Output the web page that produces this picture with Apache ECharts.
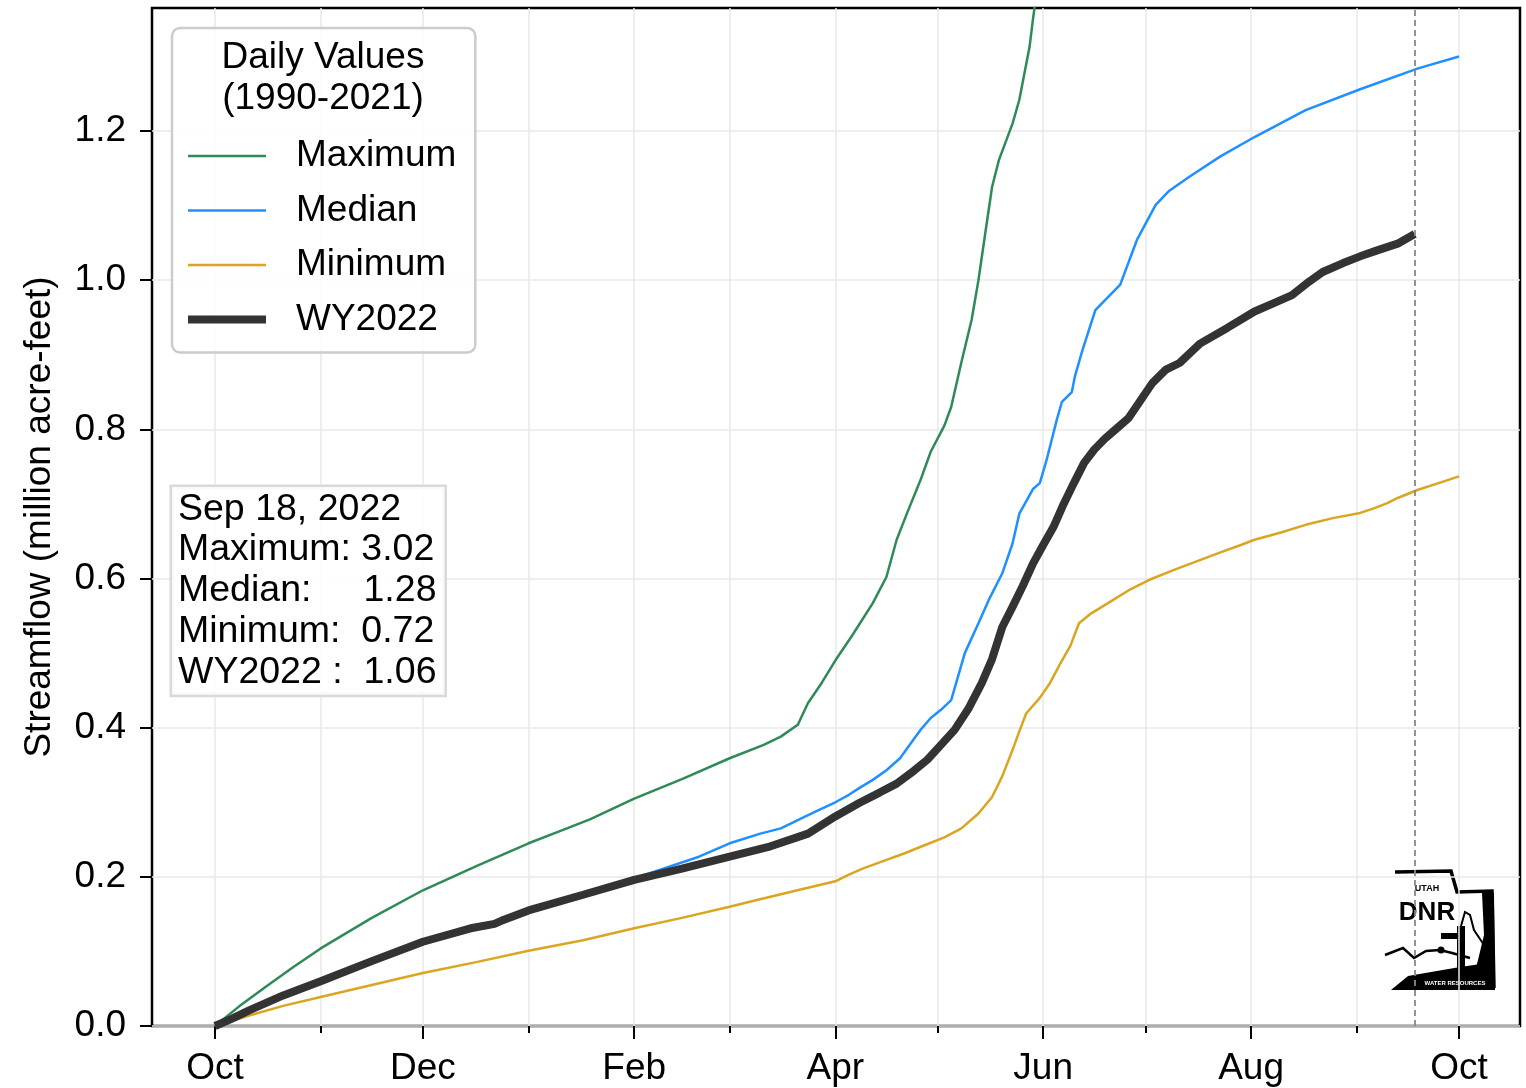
<!DOCTYPE html>
<html><head><meta charset="utf-8">
<script src="https://cdn.jsdelivr.net/npm/echarts@6/dist/echarts.min.js"></script>
<style>html,body{margin:0;padding:0;background:#fff}#c{width:1526px;height:1088px}</style>
</head><body><div id="c"></div>
<script>
// ---- axis definitions (day of water year, Oct 1 = 0) ----
const monthDays = [0,31,61,92,123,151,182,212,243,273,304,335,365];
const majorDays = [0,61,123,182,243,304,365];
const majorLabels = ['Oct','Dec','Feb','Apr','Jun','Aug','Oct'];
const yTicks = [0,0.2,0.4,0.6,0.8,1.0,1.2];

// ---- Maximum (1990-2021) ----
const maxDays = [0,7,15,23,31,46,61,77,92,101,110,123,137,151,161,166,171,174,178,182,187,193,197,200,203,207,210,214,216,219,222,224,226,228,230,234,236,239,240,243,250,260,275,290,305,320,335,352,365];
const maxVals = [0,0.026,0.053,0.079,0.104,0.145,0.182,0.215,0.245,0.261,0.277,0.305,0.331,0.359,0.377,0.388,0.404,0.433,0.46,0.49,0.524,0.567,0.602,0.652,0.687,0.732,0.77,0.805,0.83,0.89,0.947,1.0,1.063,1.125,1.161,1.21,1.242,1.313,1.35,1.45,1.7,2.0,2.35,2.6,2.75,2.88,2.96,3.02,3.07];

// ---- Median ----
const medDays = [0,5,10,20,31,46,61,75,82,84,92,108,123,142,151,160,166,171,176,182,186,189,193,197,201,204,207,210,213,216,220,224,227,231,234,236,240,242,244,247,248.5,251.4,252.3,254.5,258.3,265.6,270.5,276,280,286,295,305,320,336,353,365];
const medVals = [0,0.011,0.022,0.042,0.06,0.087,0.113,0.131,0.139,0.143,0.155,0.176,0.198,0.227,0.245,0.258,0.265,0.276,0.287,0.30,0.31,0.319,0.33,0.343,0.359,0.378,0.397,0.413,0.424,0.437,0.50,0.54,0.571,0.607,0.647,0.687,0.72,0.728,0.759,0.813,0.837,0.85,0.871,0.906,0.96,0.994,1.054,1.101,1.12,1.139,1.166,1.192,1.228,1.256,1.284,1.30];

// ---- Minimum ----
const minDays = [0,10,20,31,46,61,77,92,108,123,137,151,159,170,182,186,190,196,202,208,214,219,224,228,231,234,236,238,242,245,248,251,253.5,257,262,268,274,281,288,295,301,305,313,320,328,336,340,344,347,353,359,365];
const minVals = [0,0.014,0.027,0.039,0.055,0.071,0.086,0.101,0.115,0.131,0.145,0.16,0.169,0.181,0.194,0.203,0.211,0.221,0.231,0.242,0.253,0.265,0.285,0.307,0.335,0.37,0.395,0.419,0.44,0.46,0.486,0.51,0.54,0.553,0.567,0.584,0.598,0.611,0.623,0.635,0.645,0.652,0.662,0.672,0.681,0.688,0.694,0.701,0.708,0.719,0.728,0.737];

// ---- WY2022 ----
const wyDays = [0,5,10,20,31,46,61,75,82,84,92,108,123,137,151,163,174,182,189,195,200,205,209,213,217,221,225,228,231,234,237,240,243,246,249,252,255,258,261,264,268,271,275,279,283,289,297,305,310,316,321,325,331,336,341,347,352];
const wyVals = [0,0.01,0.021,0.041,0.06,0.087,0.113,0.131,0.137,0.141,0.155,0.176,0.196,0.211,0.227,0.241,0.258,0.281,0.299,0.313,0.325,0.342,0.357,0.377,0.397,0.425,0.46,0.492,0.535,0.562,0.59,0.62,0.645,0.669,0.70,0.728,0.755,0.773,0.787,0.799,0.815,0.835,0.862,0.88,0.889,0.915,0.936,0.958,0.968,0.98,0.998,1.011,1.023,1.032,1.04,1.049,1.062];

// ---- annotation ----
const asOfDay = 352;
const asOfLabel = 'Sep 18, 2022';
const statNames = ['Maximum: ', 'Median:     ', 'Minimum:  ', 'WY2022 :  '];
const statValues = ['3.02', '1.28', '0.72', '1.06'];

const FONT = '"Liberation Sans", Arial, sans-serif';
const pairs = (d, v) => d.map((x, i) => [x, v[i]]);

const chart = echarts.init(document.getElementById('c'), null, {renderer: 'canvas'});
const statText = [asOfLabel].concat(statNames.map((n, i) => n + statValues[i])).join('\n');

const COLORS = {Maximum: '#2e8b57', Median: '#1e90ff', Minimum: '#daa520', WY2022: '#333333'};
const WIDTHS = {Maximum: 2.5, Median: 2.5, Minimum: 2.5, WY2022: 8};

chart.setOption({
  animation: false,
  backgroundColor: '#ffffff',
  grid: {left: 152, top: 8, right: 6, bottom: 62, show: true, borderColor: '#000', borderWidth: 2.5, backgroundColor: 'transparent'},
  xAxis: [{
    type: 'value', min: -18.49, max: 382.9,
    axisLine: {show: false, onZero: false},
    axisTick: {show: true, customValues: monthDays, length: 7, lineStyle: {color: '#000', width: 2}},
    axisLabel: {customValues: majorDays, margin: 24, fontFamily: FONT, fontSize: 37, color: '#000',
      formatter: v => majorLabels[majorDays.indexOf(v)] || ''},
    splitLine: {show: true, lineStyle: {color: '#e8e8e8', width: 1.5}}
  }, {
    type: 'value', min: -18.49, max: 382.9, position: 'bottom',
    axisLine: {show: false, onZero: false},
    axisTick: {show: true, customValues: majorDays, length: 13, lineStyle: {color: '#000', width: 2}},
    axisLabel: {show: false},
    splitLine: {show: false}
  }],
  yAxis: {
    type: 'value', min: 0, max: 1.365, position: 'left',
    name: 'Streamflow (million acre-feet)', nameLocation: 'middle', nameGap: 94,
    nameTextStyle: {fontFamily: FONT, fontSize: 37, color: '#000'},
    axisLine: {show: false, onZero: false},
    axisTick: {show: true, customValues: yTicks, length: 12, lineStyle: {color: '#000', width: 2}},
    axisLabel: {customValues: yTicks, margin: 26, fontFamily: FONT, fontSize: 37, color: '#000',
      formatter: v => v.toFixed(1)},
    splitLine: {show: true, lineStyle: {color: '#e8e8e8', width: 1.5}}
  },
  legend: {
    orient: 'vertical', left: 172, top: 28,
    data: ['Maximum', 'Median', 'Minimum', 'WY2022'].map(n => ({
      name: n, itemStyle: {opacity: 0},
      lineStyle: {color: COLORS[n], width: WIDTHS[n], opacity: 1}
    })),
    itemWidth: 78, itemHeight: 14, itemGap: 14.5,
    padding: [108, 19, 13, 12],
    backgroundColor: 'rgba(255,255,255,0.85)', borderColor: '#cccccc', borderWidth: 2.5, borderRadius: 8,
    textStyle: {fontFamily: FONT, fontSize: 37, color: '#000', padding: [0, 0, 0, 25], lineHeight: 40}
  },
  series: [
    {name: 'Maximum', type: 'line', data: pairs(maxDays, maxVals), showSymbol: false, symbol: 'none',
      lineStyle: {color: COLORS.Maximum, width: 2.5}, itemStyle: {color: COLORS.Maximum}, clip: true},
    {name: 'Median', type: 'line', data: pairs(medDays, medVals), showSymbol: false, symbol: 'none',
      lineStyle: {color: COLORS.Median, width: 2.5}, itemStyle: {color: COLORS.Median}, clip: true},
    {name: 'Minimum', type: 'line', data: pairs(minDays, minVals), showSymbol: false, symbol: 'none',
      lineStyle: {color: COLORS.Minimum, width: 2.5}, itemStyle: {color: COLORS.Minimum}, clip: true},
    {name: 'WY2022', type: 'line', data: pairs(wyDays, wyVals), showSymbol: false, symbol: 'none',
      lineStyle: {color: COLORS.WY2022, width: 8}, itemStyle: {color: COLORS.WY2022}, clip: true,
      markLine: {silent: true, symbol: ['none', 'none'], label: {show: false},
        lineStyle: {color: '#888888', type: [6, 4], width: 1.8},
        data: [{xAxis: asOfDay}]}}
  ],
  graphic: [
    {type: 'text', z: 100, x: 323, y: 37, style: {text: 'Daily Values\n(1990-2021)', font: '37px ' + FONT,
      fill: '#000', align: 'center', verticalAlign: 'top', lineHeight: 41}},
    {type: 'text', z: 100, x: 172, y: 487, style: {text: statText, font: '37.5px ' + FONT, fill: '#000',
      lineHeight: 40.75, backgroundColor: 'rgba(255,255,255,0.85)', borderColor: '#d9d9d9', borderWidth: 2.5,
      padding: [2, 8, 2, 6]}},
    // Utah DNR logo (decorative)
    {type: 'group', z: 50, children: [
      {type: 'polyline', shape: {points: [[1395,872],[1451,871],[1457,892],[1492,891],[1494,988]]},
        style: {stroke: '#000', lineWidth: 3.5, fill: null}},
      {type: 'polygon', shape: {points: [[1482,893],[1494,893],[1495,990],[1470,990],[1478,960],[1484,935]]},
        style: {fill: '#000'}},
      {type: 'polygon', shape: {points: [[1391,990],[1408,976],[1460,967],[1495,962],[1495,990]]},
        style: {fill: '#000'}},
      {type: 'polyline', shape: {points: [[1385,955],[1403,948],[1414,958],[1426,951],[1440,950],[1452,953],[1470,958]]},
        style: {stroke: '#000', lineWidth: 2.5, fill: null}},
      {type: 'rect', shape: {x: 1457, y: 926, width: 8, height: 46}, style: {fill: '#000'}},
      {type: 'rect', shape: {x: 1441, y: 933, width: 22, height: 6}, style: {fill: '#000'}},
      {type: 'polyline', shape: {points: [[1461,926],[1465,912],[1470,915],[1474,930],[1484,945]]},
        style: {stroke: '#000', lineWidth: 2, fill: null}},
      {type: 'circle', shape: {cx: 1441, cy: 950, r: 3.5}, style: {fill: '#000'}},
      {type: 'text', x: 1427, y: 889, style: {text: 'UTAH', font: 'bold 9px ' + FONT, fill: '#000', align: 'center', verticalAlign: 'middle'}},
      {type: 'text', x: 1427, y: 913, style: {text: 'DNR', font: 'bold 26px "Liberation Sans Narrow", ' + FONT, fill: '#000', align: 'center', verticalAlign: 'middle'}},
      {type: 'text', x: 1455, y: 983, style: {text: 'WATER RESOURCES', font: 'bold 6px ' + FONT, fill: '#fff', align: 'center', verticalAlign: 'middle'}}
    ]}
  ]
});
</script></body></html>
